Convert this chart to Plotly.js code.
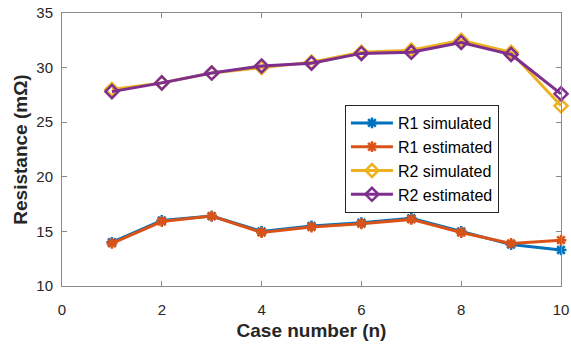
<!DOCTYPE html>
<html>
<head>
<meta charset="utf-8">
<script src="https://cdn.plot.ly/plotly-3.0.1.min.js"></script>
<style>html,body{margin:0;padding:0;background:#fff;}#chart{width:571px;height:347px;}</style>
</head>
<body>
<div id="chart"></div>
<script>
const caseNumbers = [1, 2, 3, 4, 5, 6, 7, 8, 9, 10];
const r1Simulated = [14.0, 16.0, 16.4, 15.0, 15.5, 15.8, 16.2, 15.0, 13.8, 13.3];
const r1Estimated = [13.9, 15.9, 16.4, 14.9, 15.4, 15.7, 16.1, 14.9, 13.9, 14.2];
const r2Simulated = [28.0, 28.6, 29.5, 30.0, 30.5, 31.4, 31.6, 32.5, 31.4, 26.5];
const r2Estimated = [27.8, 28.6, 29.5, 30.15, 30.4, 31.3, 31.4, 32.3, 31.2, 27.6];
const seriesNames = ['R1 simulated', 'R1 estimated', 'R2 simulated', 'R2 estimated'];
const xTicks = [0, 2, 4, 6, 8, 10];
const yTicks = [10, 15, 20, 25, 30, 35];

const FONT = "'Liberation Sans', Arial, sans-serif";
const colors = ['#0072BD', '#D95319', '#EDB120', '#7E2F8E'];
const values = [r1Simulated, r1Estimated, r2Simulated, r2Estimated];
const symbols = ['asterisk-open', 'asterisk-open', 'diamond-open', 'diamond-open'];
const sizes = [9, 9, 10, 10];

const traces = values.map((v, i) => ({
  x: caseNumbers, y: v, name: seriesNames[i], type: 'scatter', mode: 'lines+markers',
  cliponaxis: false,
  line: {color: colors[i], width: 3},
  marker: {symbol: symbols[i], size: sizes[i], color: colors[i], line: {color: colors[i], width: 2.5}}
}));

const axisCommon = {
  showgrid: false, zeroline: false, showline: true, mirror: 'ticks',
  linecolor: '#8a8a8a', linewidth: 1, ticks: 'inside', ticklen: 5, tickcolor: '#8a8a8a',
  tickfont: {family: FONT, size: 15, color: '#262626'}
};

const layout = {
  width: 571, height: 347,
  margin: {l: 62, r: 10, t: 13, b: 61},
  paper_bgcolor: '#fff', plot_bgcolor: '#fff',
  showlegend: true,
  legend: {
    x: 0.567, y: 0.663, xanchor: 'left', yanchor: 'top',
    bgcolor: '#fff', bordercolor: '#262626', borderwidth: 1,
    itemwidth: 42,
    font: {family: FONT, size: 16, color: '#000'}
  },
  xaxis: Object.assign({}, axisCommon, {
    range: [0, 10], tickvals: xTicks, ticktext: xTicks.map(String),
    ticklabelstandoff: 10,
    title: {text: '<b>Case number (n)</b>', font: {family: FONT, size: 19, color: '#262626'}, standoff: 6}
  }),
  yaxis: Object.assign({}, axisCommon, {
    range: [10, 35], tickvals: yTicks, ticktext: yTicks.map(String),
    ticklabelstandoff: 5,
    title: {text: '<b>Resistance (mΩ)</b>', font: {family: FONT, size: 19, color: '#262626'}, standoff: 3}
  })
};

Plotly.newPlot('chart', traces, layout, {displayModeBar: false, staticPlot: true});
</script>
</body>
</html>
